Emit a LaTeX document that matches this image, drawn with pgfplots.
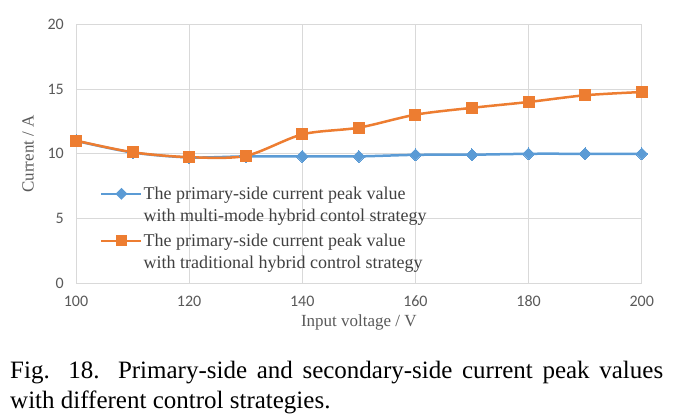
\documentclass[border=0pt]{standalone}
\usepackage{pgfplots}
\pgfplotsset{compat=1.18}
\usepackage{fontspec}
\setmainfont{Liberation Serif}
\newfontfamily\calib{Carlito}
\definecolor{cblue}{HTML}{5B9BD5}
\definecolor{corange}{HTML}{ED7D31}
\definecolor{gridc}{HTML}{D9D9D9}
\definecolor{tickc}{HTML}{595959}
\definecolor{legc}{HTML}{404040}
\begin{document}
\begin{tikzpicture}[x=1pt,y=1pt]
\path[use as bounding box] (0,0) rectangle (684,419);
\begin{axis}[
  at={(76pt,135.7pt)}, anchor=south west,
  scale only axis, width=565.7pt, height=259pt,
  xmin=100, xmax=200, ymin=0, ymax=20,
  xtick={100,120,...,200}, ytick={0,5,...,20},
  grid=major, major grid style={draw=gridc, line width=1pt},
  axis line style={draw=none}, major tick length=0pt,
  /pgf/number format/assume math mode=true,
  tick label style={font=\calib\fontsize{16}{16}\selectfont, text=tickc},
  xticklabel style={yshift=-9pt},
  yticklabel style={xshift=-8.7pt},
  xlabel={Input voltage / V},
  xlabel style={font=\fontsize{17}{17}\selectfont, text=tickc, at={(axis description cs:0.5,-0.1687)}, anchor=base},
  ylabel={Current / A},
  ylabel style={font=\fontsize{17}{17}\selectfont, text=tickc, at={(axis description cs:-0.0849,0.5)}, anchor=center},
  legend style={at={(axis description cs:0.0424,0.377)}, anchor=north west, draw=none, fill=none, inner sep=0pt,
    font=\fontsize{18}{22}\selectfont, text=legc, cells={anchor=west, align=left}, row sep=9pt,
    nodes={inner sep=1pt}},
  legend image code/.code={
    \draw[#1,mark=none] (0pt,11pt) -- (40pt,11pt);
    \draw[#1,line width=0pt,draw opacity=0] plot coordinates {(20pt,11pt)};
  },
]
\addplot[color=cblue, line width=2.5pt, smooth, mark=square*, mark size=4.2pt, mark options={rotate=45, fill=cblue, line width=0pt}]
  coordinates {(100,11.0) (110,10.1) (120,9.72) (130,9.8) (140,9.8) (150,9.8) (160,9.92) (170,9.93) (180,10.0) (190,10.0) (200,10.0)};
\addlegendentry{The primary-side current peak value\\with multi-mode hybrid contol strategy}
\addplot[color=corange, line width=2.5pt, smooth, mark=square*, mark size=5.5pt, mark options={fill=corange, line width=0pt}]
  coordinates {(100,11.02) (110,10.12) (120,9.74) (130,9.84) (140,11.5) (150,12.02) (160,13.02) (170,13.55) (180,14.0) (190,14.52) (200,14.77)};
\addlegendentry{The primary-side current peak value\\with traditional hybrid control strategy}
\end{axis}
\node[anchor=north west, inner sep=0pt, text width=653pt, align=justify, font=\fontsize{25}{30}\selectfont] at (10,62)
  {\strut Fig. 18. Primary-side and secondary-side current peak values\linebreak with different control strategies.};
\end{tikzpicture}
\end{document}
